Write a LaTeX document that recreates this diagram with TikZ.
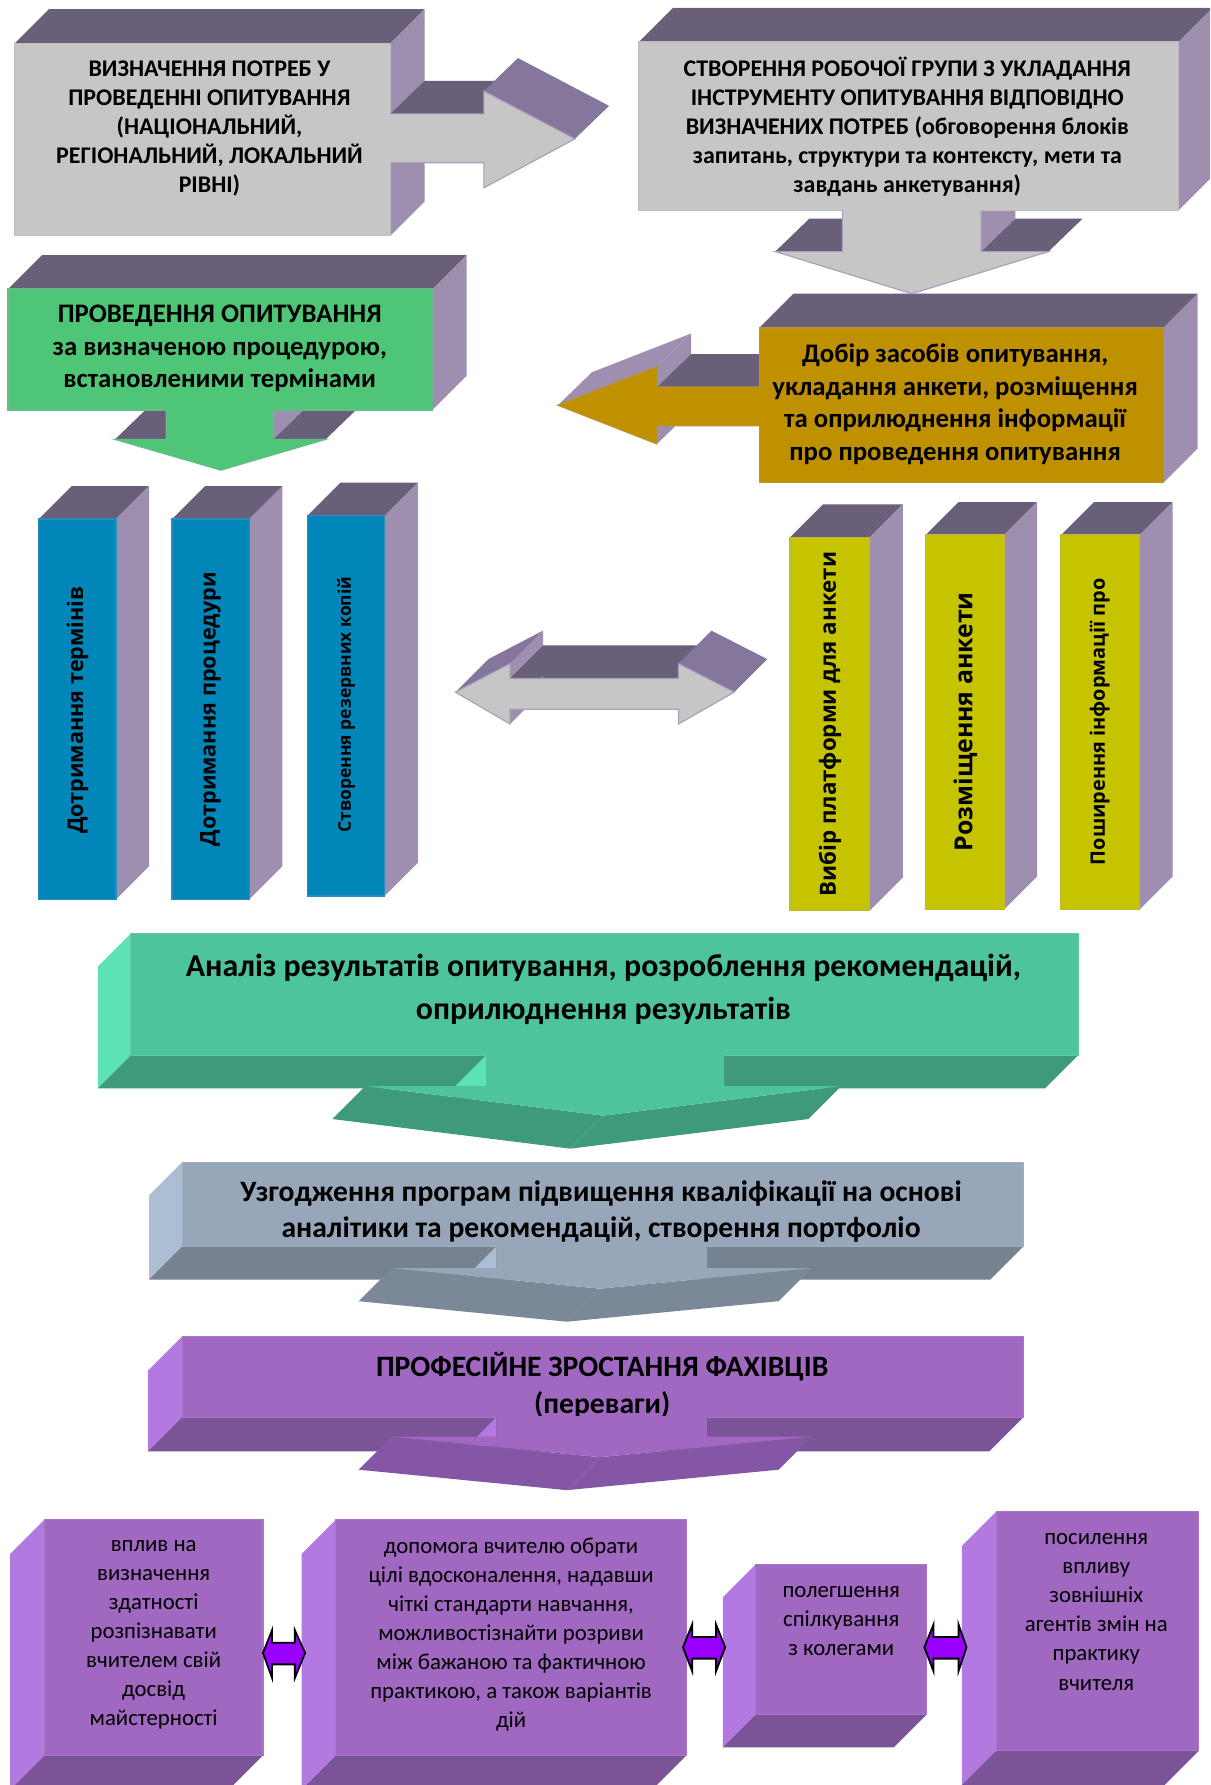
\documentclass[tikz,border=0pt]{standalone}
\usepackage{fontspec}
\setmainfont{Carlito}
\newfontfamily\colfont{Open Sans}
\definecolor{topc}{HTML}{6A5F78}
\definecolor{sidec}{HTML}{9E8FB1}
\definecolor{midc}{HTML}{84779B}
\definecolor{grayf}{HTML}{C6C6C6}
\definecolor{grayb}{HTML}{A99FBC}
\definecolor{greenC}{HTML}{4FC677}
\definecolor{goldD}{HTML}{BF9000}
\definecolor{blueK}{HTML}{0086B9}
\definecolor{yelK}{HTML}{C6C400}
\definecolor{Ef}{HTML}{4DC49C}
\definecolor{Eb}{HTML}{3E9A7A}
\definecolor{El}{HTML}{5DE2B4}
\definecolor{Ff}{HTML}{97A6B8}
\definecolor{Fb}{HTML}{76828F}
\definecolor{Fl}{HTML}{ACBED4}
\definecolor{Fh}{HTML}{7B8898}
\definecolor{Gf}{HTML}{A068C0}
\definecolor{Gb}{HTML}{7B5397}
\definecolor{Gl}{HTML}{B479E0}
\definecolor{Gh}{HTML}{8456A5}
\definecolor{arp}{HTML}{9900FF}
% 3D box, depth up-right
\newcommand{\boxUR}[6]{%
  \fill[topc] (#1,#2) -- ({#1+#5},{#2-#5}) -- ({#3+#5},{#2-#5}) -- (#3,#2) -- cycle;
  \fill[sidec] (#3,#2) -- ({#3+#5},{#2-#5}) -- ({#3+#5},{#4-#5}) -- (#3,#4) -- cycle;
  \filldraw[fill=#6, draw=#6!75!grayb, line width=1.2pt] (#1,#2) rectangle (#3,#4);
}
% 3D box, depth down-left
\newcommand{\boxDL}[8]{%
  \fill[#7] (#1,#2) -- ({#1-#5},{#2+#5}) -- ({#1-#5},{#4+#5}) -- (#1,#4) -- cycle;
  \fill[#8] (#1,#4) -- ({#1-#5},{#4+#5}) -- ({#3-#5},{#4+#5}) -- (#3,#4) -- cycle;
  \filldraw[fill=#6, draw=#6!90!white, line width=1pt] (#1,#2) rectangle (#3,#4);
}
\tikzset{
  txt/.style={align=center, inner sep=0pt, text=black},
  captxt/.style={txt, font=\bfseries\fontsize{21}{25.5}\selectfont},
  coltxt/.style={txt, rotate=90, font=\colfont\bfseries\fontsize{19}{22}\selectfont},
  bottxt/.style={txt, font=\fontsize{20}{25.5}\selectfont},
  smallarrow/.style={fill=arp, draw=black, line width=1.6pt, line join=miter}
}
\begin{document}
\begin{tikzpicture}[x=1pt,y=-1pt]
\useasboundingbox (0,0) rectangle (1063,1568);
\clip (0,0) rectangle (1063,1568);
\fill[white] (0,0) rectangle (1063,1568);

% ---------- Box D and its left arrow ----------
\fill[sidec] (490,356) -- (520,327) -- (607,293) -- (577,322) -- cycle;
\fill[sidec] (577,322) -- (607,293) -- (607,311) -- (577,340) -- cycle;
\fill[topc] (577,340) -- (607,311) -- (698,311) -- (668,340) -- cycle;
\fill[sidec] (577,374) -- (607,345) -- (607,361) -- (577,390) -- cycle;
\boxUR{667}{288}{1022}{424}{30}{goldD}
\filldraw[fill=goldD, draw=goldD!75!grayb, line width=1pt] (668,340) -- (577,340) -- (577,322) -- (490,356) -- (577,390) -- (577,374) -- (668,374);
\fill[goldD] (660,341) rectangle (670,373);
\node[txt, font=\bfseries\fontsize{23.5}{28.5}\selectfont] (tD) at (839,355) {Добір засобів опитування,\\укладання анкети, розміщення\\та оприлюднення інформації\\про проведення опитування};

% ---------- Box B and its down arrow ----------
\fill[sidec] (862,185) -- (892,156) -- (892,192) -- (862,221) -- cycle;
\fill[topc] (681,221) -- (711,192) -- (770,192) -- (740,221) -- cycle;
\fill[topc] (862,221) -- (892,192) -- (951,192) -- (921,221) -- cycle;
\boxUR{561}{37}{1035}{185}{30}{grayf}
\filldraw[fill=grayf, draw=grayb, line width=1pt] (740,185) -- (740,221) -- (681,221) -- (801,258) -- (921,221) -- (862,221) -- (862,185);
\fill[grayf] (741,180) rectangle (861,190);
\node[captxt] (tB) at (797,111) {СТВОРЕННЯ РОБОЧОЇ ГРУПИ З УКЛАДАННЯ\\ІНСТРУМЕНТУ ОПИТУВАННЯ ВІДПОВІДНО\\ВИЗНАЧЕНИХ ПОТРЕБ (обговорення блоків\\запитань, структури та контексту, мети та\\завдань анкетування)};

% ---------- Box A and its right arrow ----------
\boxUR{13}{38}{343}{207}{30}{grayf}
\fill[topc] (343,100) -- (373,71) -- (455,71) -- (425,100) -- cycle;
\fill[midc] (425,80) -- (455,51) -- (535,93) -- (505,122) -- cycle;
\filldraw[fill=grayf, draw=grayb, line width=1pt] (343,100) -- (425,100) -- (425,80) -- (505,122) -- (425,165) -- (425,143) -- (343,143);
\fill[grayf] (338,101) rectangle (348,142);
\node[captxt] (tA) at (184,113) {ВИЗНАЧЕННЯ ПОТРЕБ У\\ПРОВЕДЕННІ ОПИТУВАННЯ\\(НАЦІОНАЛЬНИЙ,\\РЕГІОНАЛЬНИЙ, ЛОКАЛЬНИЙ\\РІВНІ)};

% ---------- Box C and its down arrow ----------
\fill[sidec] (240,360) -- (270,331) -- (270,357) -- (240,386) -- cycle;
\fill[topc] (101,386) -- (131,357) -- (176,357) -- (146,386) -- cycle;
\fill[topc] (240,386) -- (270,357) -- (316,357) -- (286,386) -- cycle;
\boxUR{7}{254}{380}{360}{30}{greenC}
\filldraw[fill=greenC, draw=greenC!75!grayb, line width=1pt] (146,360) -- (146,386) -- (101,386) -- (194,413) -- (286,386) -- (240,386) -- (240,360);
\fill[greenC] (147,355) rectangle (239,365);
\node[txt, font=\bfseries\fontsize{23.5}{28.5}\selectfont] (tC) at (193,306) {ПРОВЕДЕННЯ ОПИТУВАННЯ\\за визначеною процедурою,\\встановленими термінами};

% ---------- Blue columns ----------
\boxUR{34}{456}{102}{790}{29}{blueK}
\boxUR{151}{456}{219}{790}{29}{blueK}
\boxUR{270}{453}{338}{787}{29}{blueK}
\node[coltxt] (k1) at (68,624) {Дотримання термінів};
\node[coltxt] (k2) at (185,623) {Дотримання процедури};
\node[coltxt, font=\colfont\bfseries\fontsize{15.4}{18}\selectfont] (k3) at (304,619) {Створення резервних копій};

% ---------- Yellow columns ----------
\boxUR{694}{472}{764}{800}{29}{yelK}
\boxUR{813}{470}{882}{799}{29}{yelK}
\boxUR{932}{470}{1001}{799}{29}{yelK}
\node[coltxt, font=\colfont\bfseries\fontsize{19.6}{22}\selectfont] (y1) at (729,636) {Вибір платформи для анкети};
\node[coltxt, font=\colfont\bfseries\fontsize{21.8}{24}\selectfont] (y2) at (848,634) {Розміщення анкети};
\node[coltxt, font=\colfont\bfseries\fontsize{17.5}{20}\selectfont] (y3) at (966,634) {Поширення інформації про};

% ---------- Middle double arrow ----------
\fill[midc] (400,608) -- (429,579) -- (477,554) -- (448,583) -- cycle;
\fill[sidec] (448,583) -- (477,554) -- (477,567) -- (448,596) -- cycle;
\fill[topc] (448,596) -- (477,567) -- (625,567) -- (596,596) -- cycle;
\fill[midc] (596,583) -- (625,554) -- (674,579) -- (645,608) -- cycle;
\fill[sidec] (448,623) -- (477,594) -- (477,607) -- (448,636) -- cycle;
\filldraw[fill=grayf, draw=grayb, line width=1pt] (400,608) -- (448,583) -- (448,596) -- (596,596) -- (596,583) -- (645,608) -- (596,636) -- (596,623) -- (448,623) -- (448,636) -- cycle;

% ---------- Box E ----------
\boxDL{115}{820}{947}{927}{29}{Ef}{El}{Eb}
\fill[El] (427,927) -- (398,956) -- (398,983) -- (427,954) -- cycle;
\fill[Eb] (321,954) -- (530,980) -- (501,1009) -- (292,983) -- cycle;
\fill[Eb] (530,980) -- (739,954) -- (710,983) -- (501,1009) -- cycle;
\fill[Ef] (427,926) -- (427,954) -- (321,954) -- (530,980) -- (739,954) -- (636,954) -- (636,926) -- cycle;
\node[txt, font=\bfseries\fontsize{28}{38}\selectfont] (tE) at (530,869) {Аналіз результатів опитування, розроблення рекомендацій,\\оприлюднення результатів};

% ---------- Box F ----------
\boxDL{160}{1021}{899}{1095}{29}{Ff}{Fl}{Fb}
\fill[Fl] (436,1095) -- (407,1124) -- (407,1143) -- (436,1114) -- cycle;
\fill[Fh] (344,1114) -- (527,1132) -- (498,1161) -- (315,1143) -- cycle;
\fill[Fh] (527,1132) -- (713,1114) -- (684,1143) -- (498,1161) -- cycle;
\fill[Ff] (436,1094) -- (436,1114) -- (344,1114) -- (527,1132) -- (713,1114) -- (621,1114) -- (621,1094) -- cycle;
\node[txt, font=\bfseries\fontsize{26}{32}\selectfont] (tF) at (528,1064) {Узгодження програм підвищення кваліфікації на основі\\аналітики та рекомендацій, створення портфоліо};

% ---------- Box G ----------
\boxDL{160}{1174}{899}{1245}{30}{Gf}{Gl}{Gb}
\begin{scope}
\clip (160,1174) rectangle (899,1244);
\node[txt, font=\bfseries\fontsize{26}{32}\selectfont] (tG) at (529,1217) {ПРОФЕСІЙНЕ ЗРОСТАННЯ ФАХІВЦІВ\\(переваги)};
\end{scope}
\fill[Gl] (436,1245) -- (407,1274) -- (407,1291) -- (436,1262) -- cycle;
\fill[Gh] (344,1262) -- (527,1280) -- (498,1309) -- (315,1291) -- cycle;
\fill[Gh] (527,1280) -- (713,1262) -- (684,1291) -- (498,1309) -- cycle;
\fill[Gf] (436,1244) -- (436,1262) -- (344,1262) -- (527,1280) -- (713,1262) -- (621,1262) -- (621,1244) -- cycle;

% ---------- Bottom boxes ----------
\boxDL{39}{1335}{231}{1542}{30}{Gf}{Gl}{Gb}
\boxDL{295}{1335}{603}{1542}{30}{Gf}{Gl}{Gb}
\boxDL{664}{1374}{814}{1506}{29}{Gf}{Gl}{Gb}
\boxDL{875}{1328}{1053}{1538}{30}{Gf}{Gl}{Gb}
\node[bottxt] (b1) at (135,1436) {вплив на\\визначення\\здатності\\розпізнавати\\вчителем свій\\досвід\\майстерності};
\node[bottxt] (b2) at (449,1436) {допомога вчителю обрати\\цілі вдосконалення, надавши\\чіткі стандарти навчання,\\можливостізнайти розриви\\між бажаною та фактичною\\практикою, а також варіантів\\дій};
\node[bottxt] (b3) at (739,1424) {полегшення\\спілкування\\з колегами};
\node[bottxt] (b4) at (963,1416) {посилення\\впливу\\зовнішніх\\агентів змін на\\практику\\вчителя};

% ---------- Small double arrows ----------
\filldraw[smallarrow] (231,1452) -- (239,1432) -- (239,1443) -- (259,1443) -- (259,1432) -- (268,1452) -- (259,1474) -- (259,1462) -- (239,1462) -- (239,1474) -- cycle;
\filldraw[smallarrow] (600,1447) -- (608,1427) -- (608,1438) -- (629,1438) -- (629,1427) -- (637,1447) -- (629,1468) -- (629,1457) -- (608,1457) -- (608,1468) -- cycle;
\filldraw[smallarrow] (812,1447) -- (820,1427) -- (820,1438) -- (842,1438) -- (842,1427) -- (849,1447) -- (842,1468) -- (842,1457) -- (820,1457) -- (820,1468) -- cycle;
\end{tikzpicture}
\end{document}
